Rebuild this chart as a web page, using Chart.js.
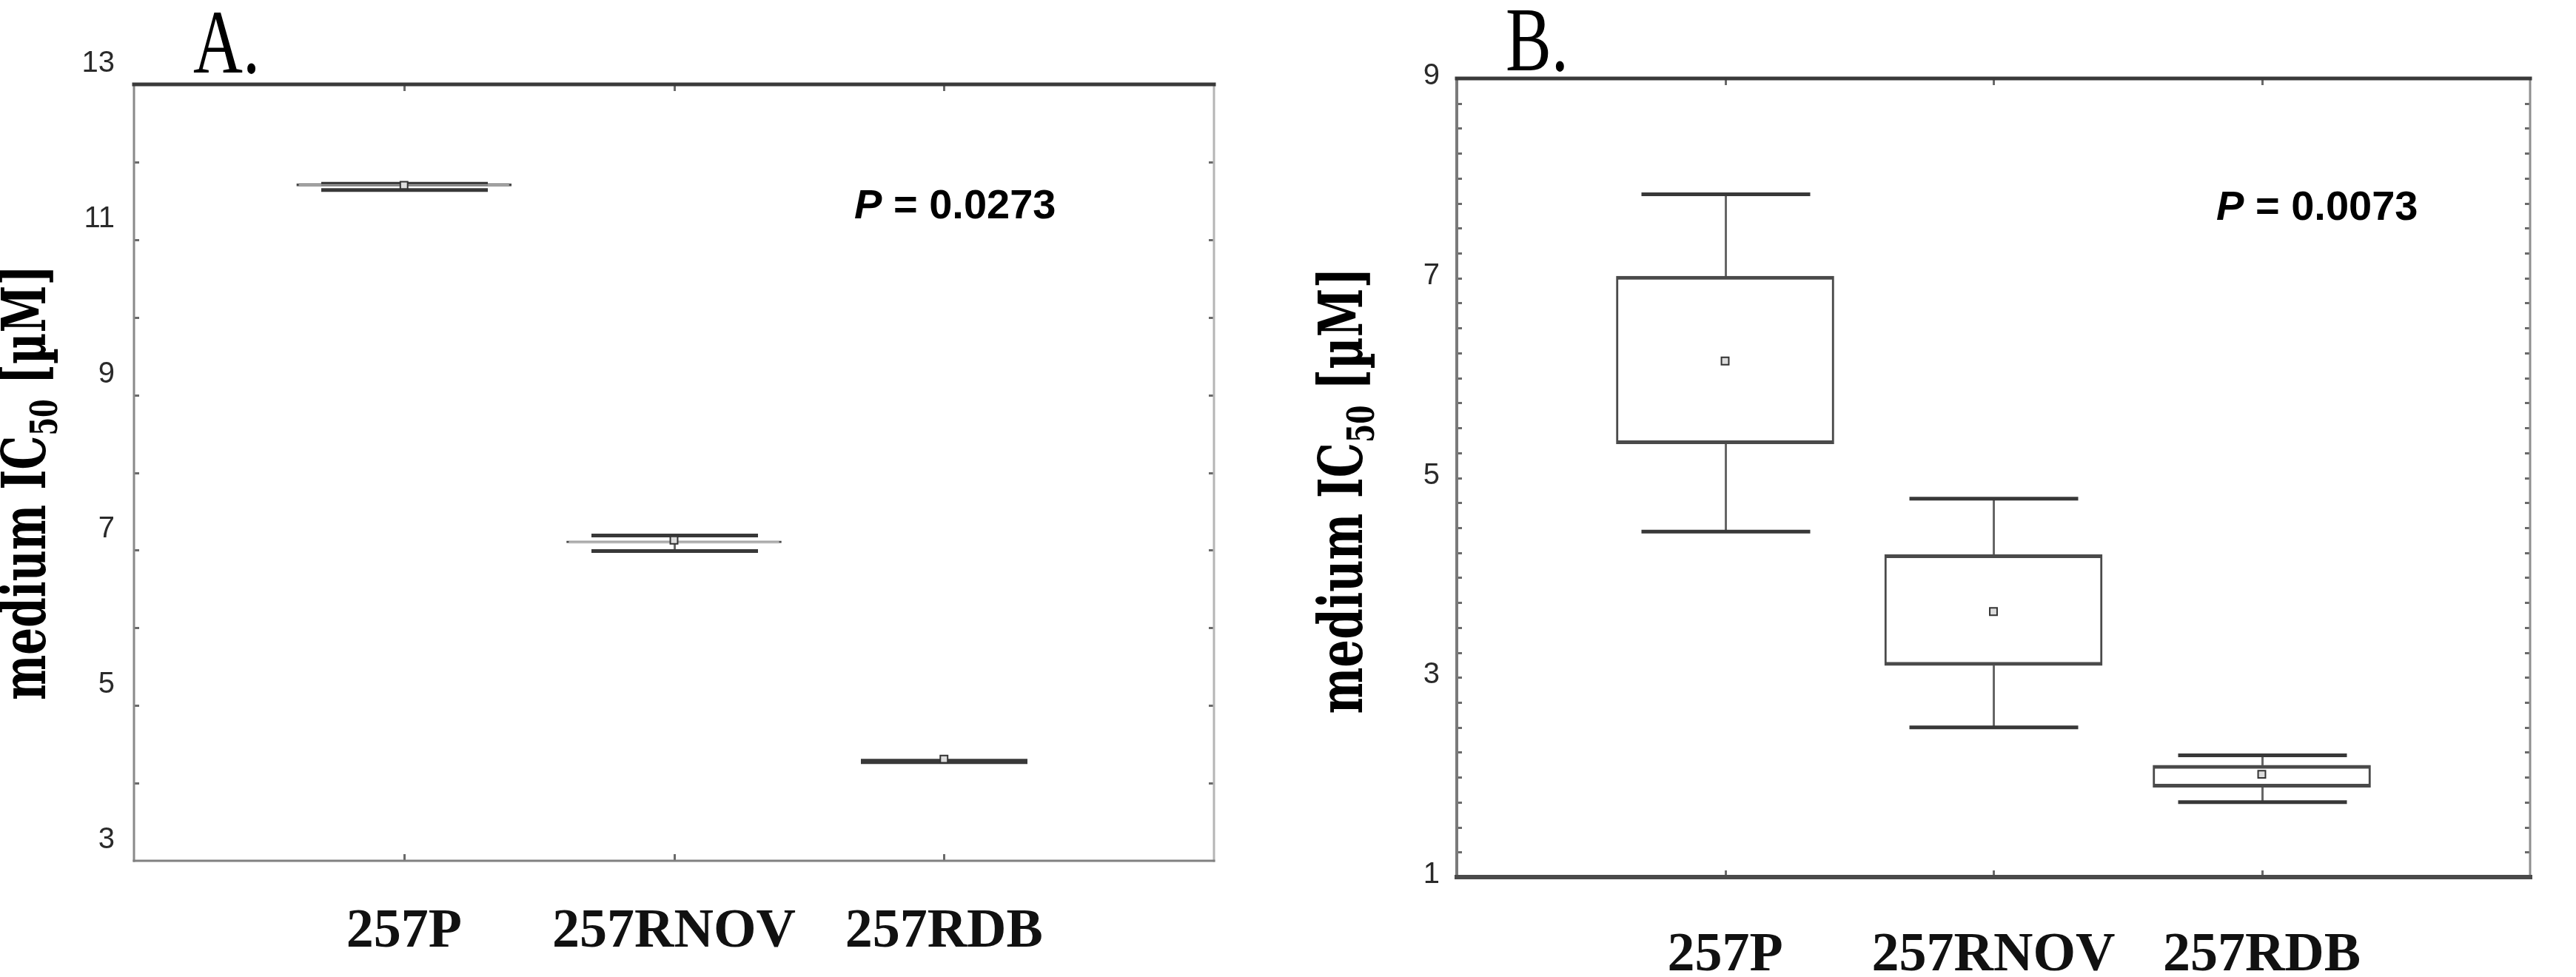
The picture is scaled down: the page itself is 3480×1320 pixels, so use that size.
<!DOCTYPE html>
<html>
<head>
<meta charset="utf-8">
<script src="https://cdn.jsdelivr.net/npm/chart.js@4.4.1/dist/chart.umd.min.js"></script>
<style>
  html, body { margin: 0; padding: 0; background: #fff; }
  #wrap { display: flex; width: 3480px; height: 1320px; }
  canvas { display: block; }
</style>
</head>
<body>
<div id="wrap">
  <canvas id="chartA" width="1740" height="1320"></canvas>
  <canvas id="chartB" width="1740" height="1320"></canvas>
</div>
<script>
// cell lines on the x axis
const categories = ['257P', '257RNOV', '257RDB'];

// panel A - box plot values (uM)
const aMin  = [11.64, 6.99, 4.27];
const aQ1   = [11.69, 7.095, 4.28];
const aMean = [11.70, 7.13, 4.31];
const aQ3   = [11.72, 7.12, 4.28];
const aMax  = [11.72, 7.19, 4.29];
const aTickLabels = [3, 5, 7, 9, 11, 13];

// panel B - box plot values (uM)
const bMin  = [4.46, 2.50, 1.75];
const bQ1   = [5.34, 3.12, 1.90];
const bMean = [6.17, 3.66, 2.03];
const bQ3   = [7.02, 4.23, 2.12];
const bMax  = [7.84, 4.79, 2.22];
const bTickLabels = [1, 3, 5, 7, 9];

function line(ctx, x1, y1, x2, y2) {
  ctx.beginPath();
  ctx.moveTo(x1, y1);
  ctx.lineTo(x2, y2);
  ctx.stroke();
}

// whiskers + caps, drawn under the boxes
function makeWhiskers(p) {
  return {
    id: 'whiskers',
    beforeDatasetsDraw(chart) {
      const { ctx, scales: { x, y } } = chart;
      ctx.save();
      p.min.forEach((mn, i) => {
        const cx = Math.round(x.getPixelForValue(i + 1)) + 0.5;
        const half = p.capWidth / 2;
        ctx.strokeStyle = '#666';
        ctx.lineWidth = 3;
        line(ctx, cx, y.getPixelForValue(p.q3[i]), cx, y.getPixelForValue(p.max[i]));
        line(ctx, cx, y.getPixelForValue(p.q1[i]), cx, y.getPixelForValue(mn));
        ctx.strokeStyle = '#383838';
        ctx.lineWidth = 5;
        [mn, p.max[i]].forEach(v => {
          const py = y.getPixelForValue(v);
          line(ctx, cx - half, py, cx + half, py);
        });
      });
      ctx.restore();
    }
  };
}

// frame, inner tick marks, panel letter, P value, rotated axis title
function makeDecor(p) {
  return {
    id: 'decor',
    afterDraw(chart) {
      const { ctx, chartArea: a, scales: { x, y } } = chart;
      ctx.save();

      ctx.strokeStyle = '#6a6a6a';
      ctx.lineWidth = 3;
      y.ticks.forEach(t => {
        const py = Math.round(y.getPixelForValue(t.value)) + 0.5;
        if (py < a.top + 4 || py > a.bottom - 4) return;
        line(ctx, a.left, py, a.left + 7, py);
        line(ctx, a.right - 7, py, a.right, py);
      });
      x.ticks.forEach(t => {
        if (!categories[t.value - 1]) return;
        const px = Math.round(x.getPixelForValue(t.value)) + 0.5;
        line(ctx, px, a.top, px, a.top + 9);
        line(ctx, px, a.bottom - 9, px, a.bottom);
      });

      ctx.lineCap = 'square';
      ctx.strokeStyle = p.frame.left[0]; ctx.lineWidth = p.frame.left[1];
      line(ctx, a.left, a.top, a.left, a.bottom);
      ctx.strokeStyle = p.frame.right[0]; ctx.lineWidth = p.frame.right[1];
      line(ctx, a.right, a.top, a.right, a.bottom);
      ctx.strokeStyle = p.frame.bottom[0]; ctx.lineWidth = p.frame.bottom[1];
      line(ctx, a.left, a.bottom, a.right, a.bottom);
      ctx.strokeStyle = p.frame.top[0]; ctx.lineWidth = p.frame.top[1];
      line(ctx, a.left, a.top, a.right, a.top);

      ctx.fillStyle = '#000';
      ctx.textBaseline = 'alphabetic';
      ctx.textAlign = 'left';

      // panel letter
      ctx.save();
      ctx.translate(p.letterX, p.letterY);
      ctx.scale(0.76, 1);
      ctx.font = '122px "Liberation Serif", "Times New Roman", serif';
      ctx.fillText(p.letter, 0, 0);
      ctx.restore();

      // P value
      ctx.font = 'italic bold 56px "Liberation Sans", Arial, sans-serif';
      ctx.fillText('P', p.pX, p.pY);
      const w = ctx.measureText('P').width;
      ctx.font = 'bold 56px "Liberation Sans", Arial, sans-serif';
      ctx.fillText(' = ' + p.pValue, p.pX + w, p.pY);

      // y axis title with subscript
      ctx.save();
      ctx.translate(p.titleX, p.titleY);
      ctx.rotate(-Math.PI / 2);
      const big = 'bold 82px "DejaVu Serif", "Liberation Serif", serif';
      const small = 'bold 50px "DejaVu Serif", "Liberation Serif", serif';
      const parts = [['medium IC', big, 0], ['50', small, 16], [' [\u00b5M]', big, 0]];
      let total = 0;
      parts.forEach(q => { ctx.font = q[1]; q.push(ctx.measureText(q[0]).width); total += q[3]; });
      ctx.scale(p.titleLen / total, 1);
      let cx = -total / 2;
      parts.forEach(q => { ctx.font = q[1]; ctx.fillText(q[0], cx, q[2]); cx += q[3]; });
      ctx.restore();

      ctx.restore();
    }
  };
}

function makeChart(id, p) {
  return new Chart(document.getElementById(id), {
    type: 'bar',
    data: {
      datasets: [
        {
          type: 'bar',
          data: categories.map((c, i) => ({ x: i + 1, y: [p.q1[i], p.q3[i]] })),
          backgroundColor: '#fff',
          borderColor: '#4a4a4a',
          borderWidth: { top: 5, bottom: 5, left: 3, right: 3 },
          borderSkipped: false,
          barThickness: p.boxWidth,
          order: 2
        },
        {
          type: 'scatter',
          data: categories.map((c, i) => ({ x: i + 1, y: p.mean[i] })),
          pointStyle: 'rect',
          radius: 7,
          borderColor: '#333',
          backgroundColor: '#ddd',
          borderWidth: 2,
          order: 1
        }
      ]
    },
    options: {
      responsive: false,
      animation: false,
      layout: { padding: p.padding },
      plugins: { legend: { display: false }, tooltip: { enabled: false } },
      scales: {
        x: {
          type: 'linear',
          min: 0,
          max: 4,
          offset: false,
          afterFit: s => { s.height = p.xAxisHeight; },
          grid: { display: false, drawTicks: false, offset: false },
          border: { display: false },
          ticks: {
            stepSize: 1,
            autoSkip: false,
            maxRotation: 0,
            padding: p.xPad,
            color: '#111',
            font: { family: '"Liberation Serif", "Times New Roman", serif', size: 74, weight: 'bold' },
            callback: v => categories[v - 1] || ''
          }
        },
        y: {
          min: p.yMin,
          max: p.yMax,
          afterFit: s => { s.width = p.yAxisWidth; },
          grid: { display: false, drawTicks: false },
          border: { display: false },
          ticks: {
            stepSize: p.step,
            autoSkip: false,
            maxTicksLimit: 100,
            padding: p.yPad,
            labelOffset: p.labelOffset,
            color: '#2a2a2a',
            font: { family: '"Liberation Sans", Arial, sans-serif', size: 40 },
            callback: v => p.labels.includes(v) ? String(v) : ''
          }
        }
      }
    },
    plugins: [makeWhiskers(p), makeDecor(p)]
  });
}

makeChart('chartA', {
  min: aMin, q1: aQ1, mean: aMean, q3: aQ3, max: aMax, labels: aTickLabels,
  yMin: 3, yMax: 13, step: 1,
  padding: { top: 114, right: 100, bottom: 0, left: 0 },
  yAxisWidth: 181, xAxisHeight: 157, xPad: 52, yPad: 26, labelOffset: -28,
  boxWidth: 290, capWidth: 225,
  frame: { top: ['#3a3a3a', 5], left: ['#8a8a8a', 3], right: ['#b5b5b5', 3], bottom: ['#808080', 3] },
  letter: 'A.', letterX: 261, letterY: 98,
  pValue: '0.0273', pX: 1154, pY: 295,
  titleX: 61, titleY: 652, titleLen: 588
});

makeChart('chartB', {
  min: bMin, q1: bQ1, mean: bMean, q3: bQ3, max: bMax, labels: bTickLabels,
  yMin: 1, yMax: 9, step: 0.25,
  padding: { top: 106, right: 11, bottom: 0, left: 0 },
  yAxisWidth: 228, xAxisHeight: 135, xPad: 62, yPad: 23, labelOffset: -3,
  boxWidth: 294, capWidth: 228,
  frame: { top: ['#3a3a3a', 5], left: ['#7a7a7a', 4], right: ['#8f8f8f', 3], bottom: ['#4a4a4a', 6] },
  letter: 'B.', letterX: 294, letterY: 95,
  pValue: '0.0073', pX: 1254, pY: 297,
  titleX: 100, titleY: 663, titleLen: 603
});
</script>
</body>
</html>
